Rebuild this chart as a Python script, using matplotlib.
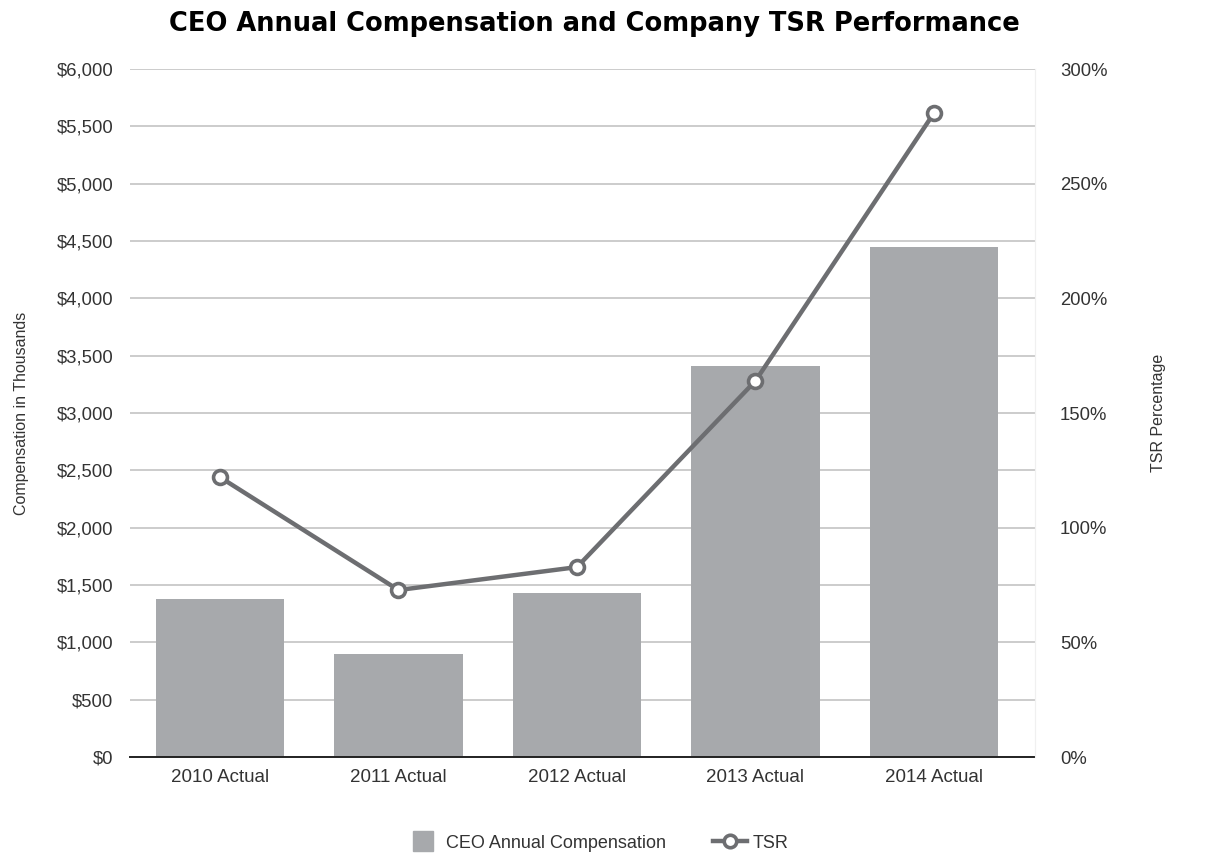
import matplotlib
matplotlib.use("Agg")
import matplotlib.pyplot as plt
from matplotlib.ticker import FuncFormatter, MultipleLocator
from matplotlib.lines import Line2D

categories = ["2010 Actual", "2011 Actual", "2012 Actual", "2013 Actual", "2014 Actual"]
compensation = [1378, 898, 1430, 3410, 4445]
tsr = [122, 72.8, 82.8, 164, 280.8]

plt.rcParams['font.family'] = ['Liberation Sans', 'DejaVu Sans']

bar_color = "#a7a9ac"
line_color = "#6d6e71"
text_color = "#333333"

fig = plt.figure(figsize=(12.26, 8.57), dpi=100)
ax = fig.add_axes([130/1226, 1-757/857, (1035-130)/1226, (757-69)/857])
x = list(range(len(categories)))
ax.bar(x, compensation, width=0.72, color=bar_color, zorder=2)
ax.set_ylim(0, 6000)
ax.set_xlim(-0.504, 4.566)
ax.yaxis.set_major_locator(MultipleLocator(500))
ax.yaxis.set_major_formatter(FuncFormatter(lambda v, p: "${:,.0f}".format(v)))
ax.grid(axis='y', color="#c8c8c8", linewidth=1.3, zorder=0)
ax.set_axisbelow(True)
for s in ["top", "left"]:
    ax.spines[s].set_visible(False)
ax.spines["right"].set_color("#f0f0f0")
ax.spines["right"].set_linewidth(0.8)
ax.spines["bottom"].set_color("#222222")
ax.spines["bottom"].set_linewidth(1.4)
ax.set_xticks(x)
ax.set_xticklabels(categories)
ax.tick_params(axis='x', length=0, pad=9, labelsize=13.5, labelcolor=text_color)
ax.tick_params(axis='y', length=0, pad=12, labelsize=13.3, labelcolor=text_color)
ax.set_ylabel("Compensation in Thousands", fontsize=11.5, color=text_color, labelpad=20)

ax2 = ax.twinx()
ax2.plot(x, tsr, color=line_color, linewidth=3.2, marker='o', markersize=10,
         markerfacecolor='white', markeredgecolor=line_color, markeredgewidth=2.6,
         zorder=5)
ax2.set_ylim(0, 300)
ax2.yaxis.set_major_locator(MultipleLocator(50))
ax2.yaxis.set_major_formatter(FuncFormatter(lambda v, p: "{:.0f}%".format(v)))
ax2.tick_params(axis='y', length=0, pad=18, labelsize=13.3, labelcolor=text_color)
for s in ["top", "left", "bottom"]:
    ax2.spines[s].set_visible(False)
ax2.spines["right"].set_color("#f0f0f0")
ax2.spines["right"].set_linewidth(0.8)
ax2.set_ylabel("TSR Percentage", fontsize=11.5, color=text_color, labelpad=31, rotation=90)

fig.suptitle("CEO Annual Compensation and Company TSR Performance",
             fontsize=18.5, fontweight='bold', family='DejaVu Sans', y=0.987, x=0.485)

handles = [
    Line2D([], [], linestyle='none', marker='s', markersize=14, markerfacecolor=bar_color,
           markeredgecolor=bar_color),
    Line2D([], [], color=line_color, linewidth=3.2, marker='o', markersize=9,
           markerfacecolor='white', markeredgecolor=line_color, markeredgewidth=2.6),
]
fig.legend(handles, ["CEO Annual Compensation", "TSR"], loc='center',
           bbox_to_anchor=(0.487, 0.016), ncol=2,
           frameon=False, fontsize=13, labelcolor=text_color, handlelength=1.9,
           columnspacing=2.6, handletextpad=0.3)

fig.savefig("out.png", dpi=100, facecolor='white')
